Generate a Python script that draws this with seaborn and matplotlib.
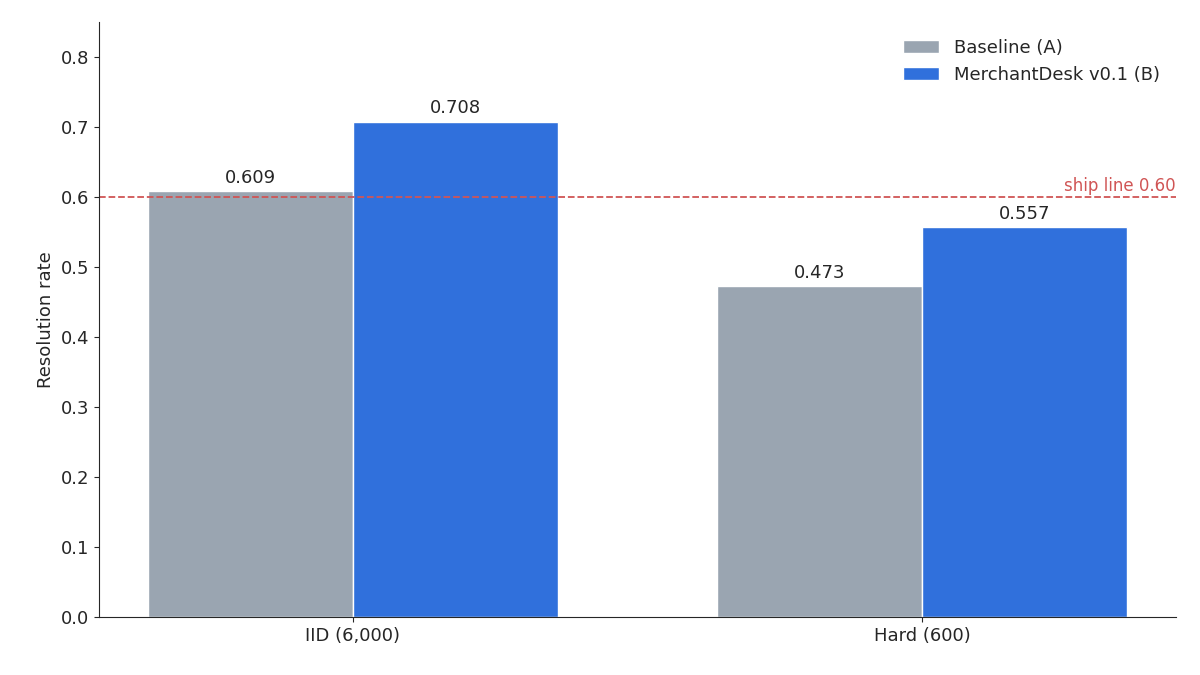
import matplotlib
matplotlib.use("Agg")
import matplotlib.pyplot as plt
import pandas as pd
import seaborn as sns

# ── Data ──────────────────────────────────────────────────────────────────────
splits   = ["IID (6,000)", "Hard (600)"]
models   = ["Baseline (A)", "MerchantDesk v0.1 (B)"]
baseline = [0.609, 0.473]
merchant = [0.708, 0.557]
ship_line = 0.60

df = pd.DataFrame({
    "split": splits * 2,
    "model": [models[0]] * 2 + [models[1]] * 2,
    "rate":  baseline + merchant,
})

sns.set_style("ticks")
plt.rcParams["font.family"] = ["DejaVu Sans"]

fig, ax = plt.subplots(figsize=(12, 6.75), dpi=100)
fig.subplots_adjust(left=0.0825, right=0.98, top=0.967, bottom=0.086)

sns.barplot(data=df, x="split", y="rate", hue="model", order=splits,
            hue_order=models, palette=["#9aa5b1", "#3070dc"], width=0.72,
            saturation=1, ax=ax)

for cont in ax.containers:
    ax.bar_label(cont, fmt="%.3f", padding=3, fontsize=13)

ax.axhline(ship_line, color="#d05555", ls="--", lw=1.3)
ax.text(1.446, ship_line + 0.003, f"ship line {ship_line:.2f}", color="#d05555",
        ha="right", va="bottom", fontsize=12)

ax.set_xlim(-0.446, 1.446)
ax.set_ylim(0, 0.85)
ax.set_yticks([i / 10 for i in range(9)])
ax.set_xlabel("")
ax.set_ylabel("Resolution rate", fontsize=13)
ax.tick_params(labelsize=13)
sns.despine(ax=ax)
ax.legend(frameon=False, fontsize=13, loc="upper right")

fig.savefig("out.png", dpi=100)
